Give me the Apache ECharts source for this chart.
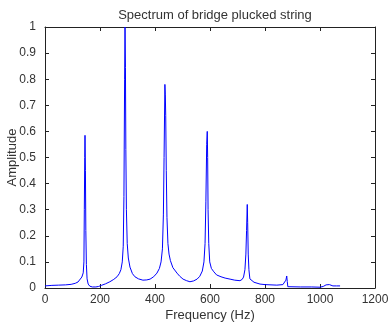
<!DOCTYPE html>
<html><head><meta charset="utf-8">
<script src="https://cdn.jsdelivr.net/npm/echarts@6/dist/echarts.min.js"></script>
<style>html,body{margin:0;padding:0;background:#fff}#c{width:391px;height:324px}</style>
</head><body><div id="c"></div>
<script>
var titleText = 'Spectrum of bridge plucked string';
var xName = 'Frequency (Hz)';
var yName = 'Amplitude';
var xTicks = [0, 200, 400, 600, 800, 1000, 1200];
var yTicks = [0, 0.1, 0.2, 0.3, 0.4, 0.5, 0.6, 0.7, 0.8, 0.9, 1];
var freqs = [0,25,50,75,95,110,120,127,134,139,141.5,143,144.5,145.5,147,148.5,150.5,153,157,163,172,185,195,205,220,236,250,262,270,276,281,284.5,287,289.5,291,292.5,294,296,299,303,309,318,327,340,356,370,382,395,407,416,422,427,430.5,433,436,437.5,439,441,443.5,447,451,456,465,480,490,502,515,527,540,553,563,572,578,582,585,588,590,591.5,593,595.5,599,605,614,624,640,655,673,690,709,717,722,727,730.5,733,735.5,737,739,741.5,745,760,782,800,843,865,872,876,879,881,883,890,930,970,1000,1012,1022,1028,1034,1040,1047,1060,1073];
var amps = [0.008,0.01,0.011,0.012,0.014,0.018,0.023,0.03,0.042,0.058,0.1,0.3,0.5,0.585,0.45,0.22,0.09,0.035,0.015,0.007,0.004,0.004,0.006,0.01,0.016,0.024,0.033,0.043,0.055,0.07,0.1,0.16,0.35,0.8,1.0,0.845,0.53,0.3,0.17,0.115,0.08,0.055,0.043,0.035,0.03,0.031,0.034,0.043,0.057,0.075,0.1,0.15,0.28,0.5,0.78,0.74,0.66,0.45,0.27,0.17,0.13,0.105,0.078,0.057,0.045,0.034,0.028,0.024,0.027,0.034,0.045,0.065,0.1,0.17,0.33,0.55,0.6,0.5,0.3,0.17,0.1,0.075,0.062,0.05,0.043,0.038,0.034,0.03,0.028,0.033,0.042,0.07,0.13,0.22,0.32,0.25,0.13,0.07,0.035,0.022,0.015,0.013,0.011,0.013,0.018,0.03,0.046,0.025,0.005,0.004,0.004,0.004,0.003,0.006,0.012,0.018,0.013,0.01,0.008,0.008,0.008];

var data = freqs.map(function (f, i) { return [f, amps[i]]; });
var font = 'Liberation Sans, Arial, sans-serif';
var txt = '#333';
var axLine = { show: true, onZero: false, lineStyle: { color: '#222', width: 1 } };
var tick = { show: true, inside: true, length: 4, lineStyle: { color: '#222' } };

var chart = echarts.init(document.getElementById('c'), null, { renderer: 'canvas' });
chart.setOption({
  animation: false,
  backgroundColor: '#fff',
  title: {
    text: titleText, left: 210, top: 4, textAlign: 'center',
    textStyle: { fontFamily: font, fontSize: 13, fontWeight: 'normal', color: txt }
  },
  grid: { left: 45, right: 16, top: 27, bottom: 36, containLabel: false, outerBoundsMode: 'none' },
  xAxis: [{
    type: 'value', min: xTicks[0], max: xTicks[xTicks.length - 1], interval: 200,
    position: 'bottom',
    name: xName, nameLocation: 'middle', nameGap: 21, nameMoveOverlap: false,
    nameTextStyle: { fontFamily: font, fontSize: 13, color: txt },
    axisLine: axLine, axisTick: tick, splitLine: { show: false },
    axisLabel: { fontFamily: font, fontSize: 12, color: txt, margin: 6, formatter: function (v) { return String(v); } }
  }, {
    type: 'value', min: xTicks[0], max: xTicks[xTicks.length - 1], interval: 200,
    position: 'top', axisLine: axLine, axisTick: tick, axisLabel: { show: false }, splitLine: { show: false }
  }],
  yAxis: [{
    type: 'value', min: yTicks[0], max: yTicks[yTicks.length - 1], interval: 0.1,
    position: 'left',
    name: yName, nameLocation: 'middle', nameGap: 26, nameMoveOverlap: false,
    nameTextStyle: { fontFamily: font, fontSize: 13, color: txt },
    axisLine: axLine, axisTick: tick, splitLine: { show: false },
    axisLabel: { fontFamily: font, fontSize: 12, color: txt, margin: 9, formatter: function (v) { return String(Math.round(v * 10) / 10); } }
  }, {
    type: 'value', min: yTicks[0], max: yTicks[yTicks.length - 1], interval: 0.1,
    position: 'right', axisLine: axLine, axisTick: tick, axisLabel: { show: false }, splitLine: { show: false }
  }],
  series: [{
    type: 'line', data: data, xAxisIndex: 0, yAxisIndex: 0,
    showSymbol: false, symbol: 'none',
    lineStyle: { color: '#0000ff', width: 1 }
  }]
});
</script></body></html>
